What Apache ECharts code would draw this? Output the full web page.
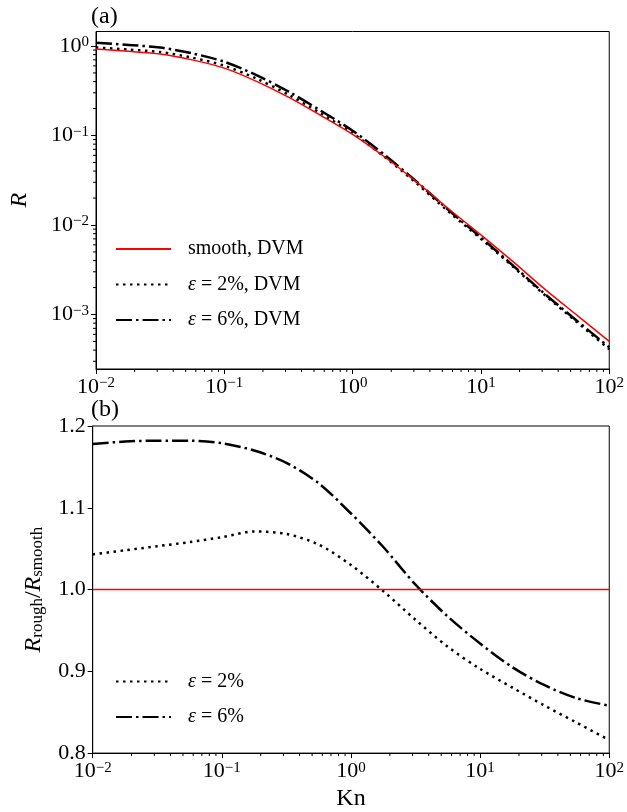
<!DOCTYPE html>
<html><head><meta charset="utf-8">
<script src="https://cdn.jsdelivr.net/npm/echarts@6/dist/echarts.min.js"></script>
<style>html,body{margin:0;padding:0;background:#fff}#c{width:627px;height:812px}</style>
</head><body><div id="c"></div>
<script>
// ---- data ----
const kn = [0.01, 0.0178, 0.0316, 0.0562, 0.1, 0.178, 0.316, 0.562, 1, 1.78, 3.16, 5.62, 10, 17.8, 31.6, 56.2, 100];
const rSmooth = [0.923, 0.871, 0.813, 0.700, 0.566, 0.403, 0.268, 0.168, 0.103, 0.0575, 0.0302, 0.0151, 0.00776, 0.00389, 0.00191, 0.000977, 0.000501];
const rEps2 = [0.963, 0.913, 0.856, 0.741, 0.602, 0.432, 0.286, 0.177, 0.106, 0.0574, 0.0291, 0.0140, 0.00701, 0.00342, 0.00164, 0.000818, 0.000409];
const rEps6 = [1.087, 1.029, 0.961, 0.827, 0.667, 0.472, 0.310, 0.190, 0.113, 0.0605, 0.0304, 0.0146, 0.00725, 0.00352, 0.00169, 0.000847, 0.000430];
const ratioEps2 = [1.043, 1.048, 1.053, 1.058, 1.064, 1.071, 1.068, 1.055, 1.030, 0.998, 0.963, 0.930, 0.903, 0.880, 0.858, 0.837, 0.816];
const ratioEps6 = [1.178, 1.181, 1.182, 1.182, 1.179, 1.170, 1.155, 1.130, 1.093, 1.052, 1.006, 0.967, 0.934, 0.905, 0.883, 0.867, 0.858];
const ratioSmoothKn = [0.01, 100];
const ratioSmooth = [1.0, 1.0];
const xTickValues = [0.01, 0.1, 1, 10, 100];
const yTickValuesTop = [0.001, 0.01, 0.1, 1];
const namesTop = ['smooth, DVM', 'ε = 2%, DVM', 'ε = 6%, DVM'];
const namesBottom = ['ε = 2%', 'ε = 6%'];

// ---- styling ----
const FONT = 'Liberation Serif';
const FS = 22;      // tick labels
const FSN = 24;     // axis names
const FSL = 20;     // legend
const xMin = 0.01, xMax = 100;
const yMinTop = 2.46e-4, yMaxTop = 1.452;
const yMinBot = 0.8, yMaxBot = 1.2;
function minorLog(lo, hi) {
  const out = [];
  for (let e = -5; e <= 3; e++) for (let m = 2; m <= 9; m++) {
    const v = m * Math.pow(10, e);
    if (v > lo && v < hi) out.push(+v.toPrecision(3));
  }
  return out;
}
const supRich = {
  b: {fontFamily: FONT, fontSize: FS, lineHeight: 22, verticalAlign: 'bottom', color: '#000'},
  s: {fontFamily: FONT, fontSize: 15, lineHeight: 15, verticalAlign: 'top', padding: [0, 0, 11, 0], color: '#000'}
};
function powLabel(v) {
  const e = Math.round(Math.log10(v));
  return '{b|10}{s|' + (e < 0 ? '\u2212' + (-e) : e) + '}';
}
const black = {color: '#000', width: 1};
function mainLogX(gi, extra) {
  return Object.assign({
    gridIndex: gi, type: 'log', position: 'bottom', min: xMin, max: xMax,
    axisLine: {show: true, lineStyle: black},
    axisTick: {show: true, length: 5, lineStyle: black, customValues: xTickValues},
    axisLabel: {customValues: xTickValues, formatter: powLabel, rich: supRich, margin: 7},
    splitLine: {show: false}
  }, extra || {});
}
const italic = {fontFamily: FONT, fontStyle: 'italic', fontSize: FSN, color: '#000'};
const legendText = {
  fontFamily: FONT, fontSize: FSL, color: '#000', lineHeight: 24, padding: [0, 0, 0, 12],
  rich: {i: {fontFamily: FONT, fontStyle: 'italic', fontSize: FSL, color: '#000'}}
};
const dotted = {color: '#000', width: 2.5, type: [2.5, 4.5], cap: 'butt'};
const dashdot = {color: '#000', width: 2.5, type: [16, 4, 2.5, 4], cap: 'butt'};
const red = {color: '#ff0000', width: 1.5};
function pairs(xs, ys) { return xs.map((x, i) => [x, ys[i]]); }

// minor ticks drawn through the axes' own scales
function minorTickSeries(xi, yi, values, dir, anchor) {
  return {
    type: 'custom', xAxisIndex: xi, yAxisIndex: yi, silent: true, clip: false, z: 5,
    data: values.map(v => dir === 'x' ? [v, anchor] : [anchor, v]),
    renderItem: function (params, api) {
      const p = api.coord([api.value(0), api.value(1)]);
      const shape = dir === 'x'
        ? {x1: p[0], y1: p[1], x2: p[0], y2: p[1] + 3}
        : {x1: p[0] - 3, y1: p[1], x2: p[0], y2: p[1]};
      return {type: 'line', shape: shape, style: {stroke: '#000', lineWidth: 1}};
    }
  };
}

const chart = echarts.init(document.getElementById('c'), null, {renderer: 'canvas'});
chart.setOption({
  animation: false,
  backgroundColor: '#fff',
  textStyle: {fontFamily: FONT, color: '#000'},
  grid: [
    {left: 92.7, top: 31.5, width: 518, height: 337.5, show: true, borderColor: '#000', borderWidth: 1, backgroundColor: 'transparent', containLabel: false},
    {left: 92.7, top: 426, width: 518, height: 331, show: true, borderColor: '#000', borderWidth: 1, backgroundColor: 'transparent', containLabel: false}
  ],
  xAxis: [
    mainLogX(0),
    mainLogX(1, {name: 'Kn', nameLocation: 'middle', nameGap: 30, nameTextStyle: {fontFamily: FONT, fontSize: FSN, color: '#000'}})
  ],
  yAxis: [
    {
      gridIndex: 0, type: 'log', position: 'left', min: yMinTop, max: yMaxTop,
      axisLine: {show: true, lineStyle: black},
      axisTick: {show: true, length: 5, lineStyle: black, customValues: yTickValuesTop},
      axisLabel: {customValues: yTickValuesTop, formatter: powLabel, rich: supRich, margin: 7},
      splitLine: {show: false},
      name: 'R', nameLocation: 'middle', nameGap: 64, nameRotate: 90, nameTextStyle: italic
    },
    {
      gridIndex: 1, type: 'value', position: 'left', min: yMinBot, max: yMaxBot, interval: 0.1,
      axisLine: {show: true, lineStyle: black},
      axisTick: {show: true, length: 5, lineStyle: black},
      axisLabel: {formatter: v => v.toFixed(1), fontFamily: FONT, fontSize: FS, color: '#000', margin: 7},
      splitLine: {show: false},
      name: '{i|R}{sub|rough}{n|/}{i|R}{sub|smooth}', nameLocation: 'middle', nameGap: 47, nameRotate: 90,
      nameTextStyle: {
        fontFamily: FONT, fontSize: FSN, color: '#000',
        rich: {
          i: {fontFamily: FONT, fontStyle: 'italic', fontSize: FSN, lineHeight: 24, verticalAlign: 'top', color: '#000'},
          n: {fontFamily: FONT, fontSize: FSN, lineHeight: 24, verticalAlign: 'top', color: '#000'},
          sub: {fontFamily: FONT, fontSize: 17, lineHeight: 17, verticalAlign: 'bottom', padding: [9, 0, 0, 0], color: '#000'}
        }
      }
    }
  ],
  legend: [
    {
      data: namesTop, orient: 'vertical', left: 115, top: 237, itemWidth: 55, itemHeight: 14, itemGap: 11.5,
      padding: 0, selectedMode: false, textStyle: legendText, itemStyle: {opacity: 0},
      formatter: n => n.replace('ε', '{i|ε}')
    },
    {
      data: namesBottom, orient: 'vertical', left: 115, top: 669.5, itemWidth: 55, itemHeight: 14, itemGap: 11.5,
      padding: 0, selectedMode: false, textStyle: legendText, itemStyle: {opacity: 0},
      formatter: n => n.replace('ε', '{i|ε}')
    }
  ],
  graphic: [
    {type: 'text', left: 91, top: 5, style: {text: '(a)', font: '24px "' + FONT + '"', fill: '#000'}},
    {type: 'text', left: 91, top: 398, style: {text: '(b)', font: '24px "' + FONT + '"', fill: '#000'}}
  ],
  series: [
    {name: namesTop[0], type: 'line', xAxisIndex: 0, yAxisIndex: 0, data: pairs(kn, rSmooth), symbol: 'none', smooth: 0.3, lineStyle: red, itemStyle: {color: '#ff0000'}, z: 3},
    {name: namesTop[1], type: 'line', xAxisIndex: 0, yAxisIndex: 0, data: pairs(kn, rEps2), symbol: 'none', smooth: 0.3, lineStyle: dotted, itemStyle: {color: '#000'}, z: 2},
    {name: namesTop[2], type: 'line', xAxisIndex: 0, yAxisIndex: 0, data: pairs(kn, rEps6), symbol: 'none', smooth: 0.3, lineStyle: dashdot, itemStyle: {color: '#000'}, z: 2},
    {name: 'smooth', type: 'line', xAxisIndex: 1, yAxisIndex: 1, data: pairs(ratioSmoothKn, ratioSmooth), symbol: 'none', lineStyle: red, itemStyle: {color: '#ff0000'}, z: 3},
    {name: namesBottom[0], type: 'line', xAxisIndex: 1, yAxisIndex: 1, data: pairs(kn, ratioEps2), symbol: 'none', smooth: 0.3, lineStyle: dotted, itemStyle: {color: '#000'}, z: 2},
    {name: namesBottom[1], type: 'line', xAxisIndex: 1, yAxisIndex: 1, data: pairs(kn, ratioEps6), symbol: 'none', smooth: 0.3, lineStyle: dashdot, itemStyle: {color: '#000'}, z: 2},
    minorTickSeries(0, 0, minorLog(xMin, xMax), 'x', yMinTop),
    minorTickSeries(0, 0, minorLog(yMinTop, yMaxTop), 'y', xMin),
    minorTickSeries(1, 1, minorLog(xMin, xMax), 'x', yMinBot)
  ]
});
</script>
</body></html>
